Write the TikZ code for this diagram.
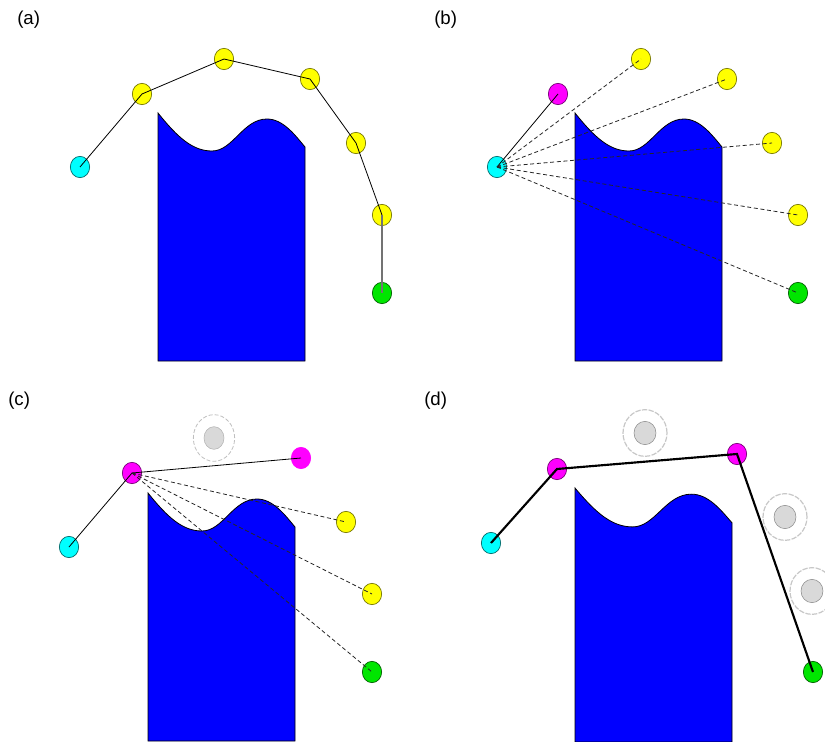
\documentclass[tikz,border=0pt]{standalone}
\usepackage{fontspec}
\setmainfont{Liberation Sans}
\usetikzlibrary{shapes.geometric}
\definecolor{cyanc}{RGB}{0,255,255}
\definecolor{yelc}{RGB}{255,255,0}
\definecolor{magc}{RGB}{255,0,255}
\definecolor{grnc}{RGB}{0,230,0}
\definecolor{bluec}{RGB}{0,0,255}
\tikzset{
  joint/.style={ellipse, inner sep=0pt, minimum width=14.5pt, minimum height=16pt, draw=black!75, line width=0.5pt},
  cyj/.style={joint, fill=cyanc, draw=cyanc!40!black},
  yej/.style={joint, fill=yelc, draw=yelc!45!black},
  mgj/.style={joint, fill=magc, draw=magc!45!black},
  grj/.style={joint, fill=grnc, draw=grnc!40!black},
  mgplain/.style={joint, fill=magc, draw=magc},
  ghostin/.style={ellipse, inner sep=0pt, minimum width=15pt, minimum height=17pt, fill=black!15, draw=black!30, line width=0.4pt},
  ghostout/.style={ellipse, inner sep=0pt, minimum width=31pt, minimum height=35pt, draw=black!25, dashed, dash pattern=on 3pt off 1.5pt, line width=0.6pt},
  ghostinb/.style={ghostin, minimum width=16.5pt, minimum height=17.5pt, draw=black!45},
  ghostoutb/.style={ghostout, minimum width=33pt, minimum height=35pt, draw=black!22, dash pattern=on 4pt off 1pt, line width=0.9pt},
  link/.style={draw=black, line width=0.6pt},
  ray/.style={draw=black!85, line width=0.6pt, dash pattern=on 3pt off 2pt},
  boldlink/.style={draw=black, line width=1.6pt},
  tag/.style={anchor=west, font=\fontsize{14}{16}\selectfont, inner sep=0pt},
  block/.style={fill=bluec, draw=black, line width=0.6pt}
}
\newcommand{\blockpath}{(0,0) .. controls (20,25) and (35,38) .. (54,38) .. controls (75,38) and (85,6) .. (109,6) .. controls (125,6) and (137,22) .. (147,34) -- (147,248) -- (0,248) -- cycle}
\begin{document}
\begin{tikzpicture}[x=0.75pt, y=-0.75pt]
\useasboundingbox (0,0) rectangle (825,742);
% ---------- (a)
\node[tag] (la) at (17,20) {(a)};
\begin{scope}[shift={(158,113)}]
  \path[block] \blockpath;
\end{scope}
\node[cyj] (a0) at (80,167) {};
\node[yej] (a1) at (142,94) {};
\node[yej] (a2) at (224,59) {};
\node[yej] (a3) at (310,79) {};
\node[yej] (a4) at (356,143) {};
\node[yej] (a5) at (382,215) {};
\node[grj] (a6) at (382,293) {};
\draw[link] (a0.center) -- (a1.center) -- (a2.center) -- (a3.center) -- (a4.center) -- (a5.center);
\draw[link, draw=black!55, line width=0.9pt] (a5.center) -- (a6.center);
% ---------- (b)
\node[tag] (lb) at (434,20) {(b)};
\begin{scope}[shift={(575,113)}]
  \path[block] \blockpath;
\end{scope}
\node[cyj] (b0) at (497,167) {};
\node[mgj] (b1) at (558,94) {};
\node[yej] (b2) at (641,59) {};
\node[yej] (b3) at (727,79) {};
\node[yej] (b4) at (772,143) {};
\node[yej] (b5) at (798,215) {};
\node[grj] (b6) at (798,293) {};
\draw[link] (b0.center) -- (b1.center);
\foreach \t in {b2,b3,b4,b5,b6} {\draw[ray] (b0.center) -- (\t.center);}
% ---------- (c)
\node[tag] (lc) at (8,401) {(c)};
\begin{scope}[shift={(148,493)}]
  \path[block] \blockpath;
\end{scope}
\node[ghostout] (cg0) at (214,438) {};
\node[ghostin] (cg1) at (214,438) {};
\node[cyj] (c0) at (69,547) {};
\node[mgj] (c1) at (132,473) {};
\node[mgplain] (c2) at (301,458) {};
\node[yej] (c3) at (346,522) {};
\node[yej] (c4) at (372,594) {};
\node[grj] (c5) at (372,672) {};
\draw[link] (c0.center) -- (c1.center) -- (c2.center);
\foreach \t in {c3,c4,c5} {\draw[ray] (c1.center) -- (\t.center);}
% ---------- (d)
\node[tag] (ld) at (424,401) {(d)};
\begin{scope}[shift={(575,488)}, xscale=1.068, yscale=1.024]
  \path[block] \blockpath;
\end{scope}
\node[ghostoutb] (dg0) at (645,433) {};
\node[ghostinb] (dg1) at (645,433) {};
\node[ghostoutb] (dg2) at (785,517) {};
\node[ghostinb] (dg3) at (785,517) {};
\node[ghostoutb] (dg4) at (812,591) {};
\node[ghostinb] (dg5) at (812,591) {};
\node[cyj] (d0) at (491,543) {};
\node[mgj] (d1) at (557,469) {};
\node[mgj] (d2) at (737,454) {};
\node[grj] (d3) at (813,672) {};
\draw[boldlink] (d0.center) -- (d1.center) -- (d2.center) -- (d3.center);
\end{tikzpicture}
\end{document}
